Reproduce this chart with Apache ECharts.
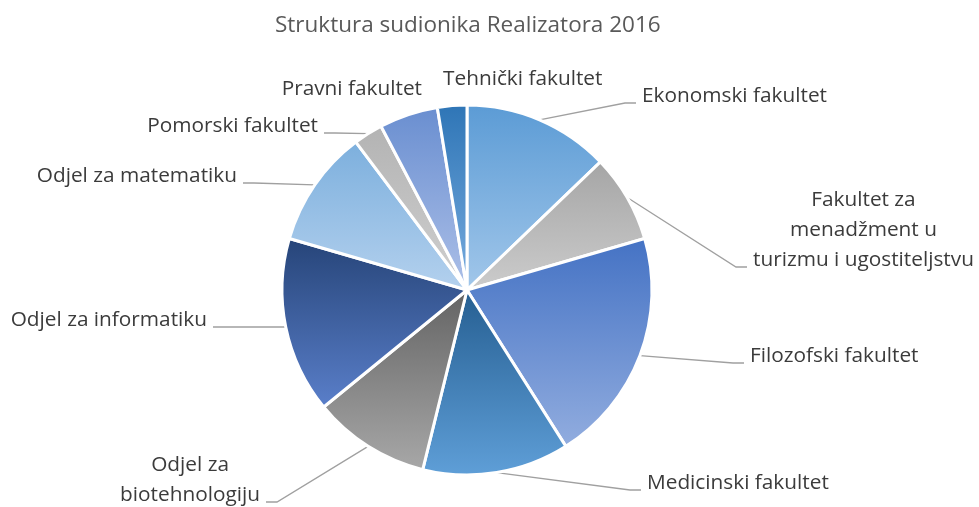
<!DOCTYPE html>
<html><head><meta charset="utf-8">
<script src="https://cdn.jsdelivr.net/npm/echarts@6/dist/echarts.min.js"></script>
<style>html,body{margin:0;padding:0;background:#fff}#c{width:979px;height:507px}</style>
</head><body><div id="c"></div>
<script>
const titleText = 'Struktura sudionika Realizatora 2016';
const categories = ['Ekonomski fakultet','Fakultet za\nmenadžment u\nturizmu i ugostiteljstvu','Filozofski fakultet','Medicinski fakultet','Odjel za\nbiotehnologiju','Odjel za informatiku','Odjel za matematiku','Pomorski fakultet','Pravni fakultet','Tehnički fakultet'];
const values = [5,3,8,5,4,6,4,1,2,1];

// styles (kept apart from the data)
const colorTop = ['#5b9bd5','#a5a5a5','#4472c4','#255e91','#636363','#264478','#7cafdd','#b3b3b3','#698ed0','#2e75b6'];
const colorBottom = ['#a2c7ea','#cccccc','#92addf','#5f9fd8','#a8a8a8','#5a7fca','#b4d1ee','#d0d0d0','#adc0e8','#78acdf'];
// label placement: side, text edge x next to leader line, baseline y of last line, draw leader line
const labelSide  = ['R','R','R','R','L','L','L','L','L','R'];
const labelEdgeX = [642, 753, 750, 647, 260, 207, 237, 318, 422, 443];
const labelBaseY = [103, 267, 363, 490, 502, 327, 183, 133, 96, 86];
const labelLine  = [true,true,true,true,true,true,true,true,false,false];
const FONT = 20.8, LH = 30, BASE_K = 7, GAP = 6, ELBOW = 11;

const chart = echarts.init(document.getElementById('c'));
const data = values.map((v,i)=>({
  name: categories[i], value: v,
  itemStyle: {color: new echarts.graphic.LinearGradient(0,0,0,1,[{offset:0,color:colorTop[i]},{offset:1,color:colorBottom[i]}])},
  labelLine: {show: labelLine[i]}
}));
chart.setOption({
  animation: false,
  title: {text: titleText, left: 270, top: 9, textStyle: {fontFamily: 'Open Sans', fontSize: 22.5, fontWeight: 'normal', color: '#595959'}},
  series: [{
    type: 'pie', center: [467, 290], radius: 185, startAngle: 90, clockwise: true,
    avoidLabelOverlap: false,
    itemStyle: {borderColor: '#fff', borderWidth: 3},
    label: {show: true, position: 'outside', fontFamily: 'Open Sans', fontSize: FONT, color: '#3b3b3b', lineHeight: LH, align: 'center', formatter: '{b}'},
    labelLine: {show: true, length: 20, length2: 30, lineStyle: {color: '#a0a0a0', width: 1.3}},
    labelLayout: function (p) {
      const i = p.dataIndex;
      const r = p.labelRect;
      const n = categories[i].split('\n').length;
      const right = labelSide[i] === 'R';
      const cx = right ? labelEdgeX[i] + r.width / 2 : labelEdgeX[i] - r.width / 2;
      const y = labelBaseY[i] - BASE_K - (n - 1) * LH / 2;
      const res = {x: cx, y: y, align: 'center', verticalAlign: 'middle'};
      if (labelLine[i] && p.labelLinePoints) {
        const s = p.labelLinePoints[0];
        const dir = right ? -1 : 1;
        const endX = labelEdgeX[i] + dir * GAP;
        const ly = labelBaseY[i];
        res.labelLinePoints = [[s[0], s[1]], [endX + dir * ELBOW, ly], [endX, ly]];
      }
      return res;
    },
    data: data
  }]
});
</script></body></html>
